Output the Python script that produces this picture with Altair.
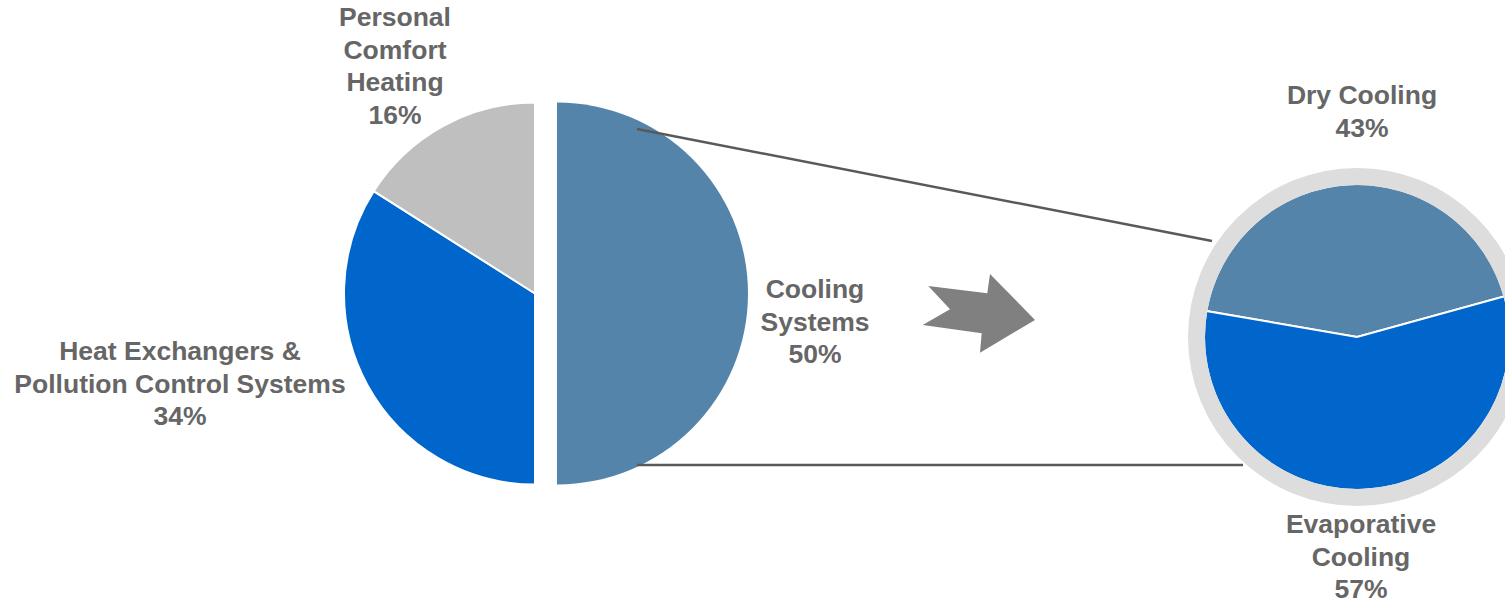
import math

import altair as alt
import pandas as pd

W, H = 1505, 603

# Share of heat-transfer applications
main_names = ["Cooling Systems", "Heat Exchangers & Pollution Control Systems", "Personal Comfort Heating"]
main_values = [50, 34, 16]
main_colors = ["#5584AB", "#0066CC", "#BFBFBF"]
main_label_lines = [["Cooling", "Systems"], ["Heat Exchangers &", "Pollution Control Systems"],
                    ["Personal", "Comfort", "Heating"]]

# Breakdown of the cooling-systems share
sub_names = ["Dry Cooling", "Evaporative Cooling"]
sub_values = [43, 57]
sub_colors = ["#5584AB", "#0066CC"]
sub_label_lines = [["Dry Cooling"], ["Evaporative", "Cooling"]]

# Label anchors: centre x and first-line y, in page pixels
main_label_pos = [(815, 290), (180, 352), (395, 18)]
sub_label_pos = [(1362, 96), (1361, 525)]

TEXT_COLOR = "#666666"
FONT = "Liberation Sans"


def slices(names, values, colors):
    rows, start = [], 0
    for n, v, c in zip(names, values, colors):
        rows.append({"name": n, "value": v, "start": start, "end": start + v, "color": c})
        start += v
    return pd.DataFrame(rows)


main_df = slices(main_names, main_values, main_colors)
sub_df = slices(sub_names, sub_values, sub_colors)

TAU = 2 * math.pi
SUB_START = -1.40  # rotation of the breakdown pie (radians from 12 o'clock)


def pie_layer(df, cx, cy, radius, start_angle, stroke_width):
    return alt.Chart(df).mark_arc(
        radius=radius, stroke="white", strokeWidth=stroke_width
    ).encode(
        theta=alt.Theta("start:Q", scale=alt.Scale(domain=[0, 100], range=[start_angle, start_angle + TAU])),
        theta2="end:Q",
        color=alt.Color("color:N", scale=None),
        x=alt.value(cx),
        y=alt.value(cy),
    )


left_rest = pie_layer(main_df[main_df["name"] != main_names[0]], 535, 293.5, 191, 0, 2)
left_cool = pie_layer(main_df[main_df["name"] == main_names[0]], 557, 293.5, 191, 0, 0)
right_pie = pie_layer(sub_df, 1357, 337, 153, SUB_START, 2)

ring = alt.Chart(pd.DataFrame({"v": [1]})).mark_arc(
    innerRadius=152, outerRadius=169, color="#DDDDDD"
).encode(
    theta=alt.Theta("v:Q"),
    x=alt.value(1357),
    y=alt.value(337),
)

xs = alt.Scale(domain=[0, W], nice=False, zero=False)
ys = alt.Scale(domain=[0, H], nice=False, zero=False, reverse=True)

# Connector lines from the cooling slice to the breakdown pie
connectors = pd.DataFrame({
    "x1": [637, 637], "y1": [129, 465],
    "x2": [1212, 1243], "y2": [241, 465],
})
lines = alt.Chart(connectors).mark_rule(color="#595959", strokeWidth=2.5).encode(
    x=alt.X("x1:Q", scale=xs, axis=None),
    y=alt.Y("y1:Q", scale=ys, axis=None),
    x2="x2:Q",
    y2="y2:Q",
)

# Block arrow between the two pies
ARROW_PATH = ("M-0.9,-0.487L0.15,-0.357L0.199,-0.701L1,0.118L0.02,0.701"
              "L0.051,0.355L-1,0.207L-0.514,-0.072Z")
arrow = alt.Chart(pd.DataFrame({"x": [978.85], "y": [313.35]})).mark_point(
    shape=ARROW_PATH, filled=True, fill="#808080", strokeWidth=0, opacity=1, size=12611
).encode(
    x=alt.X("x:Q", scale=xs, axis=None),
    y=alt.Y("y:Q", scale=ys, axis=None),
)

label_rows = []
for lines_, v, (lx, ly) in zip(main_label_lines + sub_label_lines,
                               main_values + sub_values,
                               main_label_pos + sub_label_pos):
    label_rows.append({"label": "\n".join(lines_ + [f"{v}%"]), "x": lx, "y": ly})
labels_df = pd.DataFrame(label_rows)

labels = alt.Chart(labels_df).mark_text(
    font=FONT, fontSize=26.5, fontWeight="bold", color=TEXT_COLOR,
    align="center", baseline="middle", lineBreak="\n", lineHeight=32.5,
).encode(
    x=alt.X("x:Q", scale=xs, axis=None),
    y=alt.Y("y:Q", scale=ys, axis=None),
    text="label:N",
)

chart = alt.layer(
    left_rest, left_cool, right_pie, ring, lines, arrow, labels
).resolve_scale(
    theta="independent"
).properties(
    width=W, height=H, padding=0, autosize=alt.AutoSizeParams(type="none"),
    background="white",
).configure_view(stroke=None)

chart.save("out.html", embed_options={"renderer": "svg", "actions": False})
